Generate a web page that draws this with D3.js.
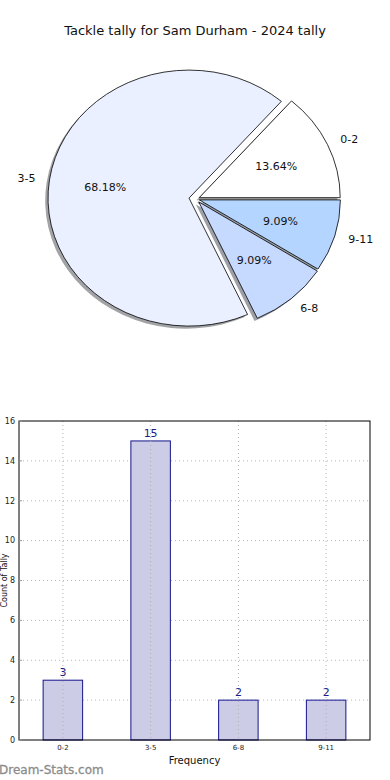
<!DOCTYPE html>
<html>
<head>
<meta charset="utf-8">
<script src="https://cdn.jsdelivr.net/npm/d3@7"></script>
<style>
  body { margin: 0; background: #fff; }
  svg { display: block; font-family: "DejaVu Sans", sans-serif; }
</style>
</head>
<body>
<svg id="chart" width="390" height="780"></svg>
<script>
// data
let categories = ["0-2", "3-5", "6-8", "9-11"];
let tallies = [3, 15, 2, 2];
let yTicks = [0, 2, 4, 6, 8, 10, 12, 14, 16];

// styles
let pieColors = ["#ffffff", "#eaf0ff", "#c6d9ff", "#b4d5ff"];
let explode = [0.025, 0.05, 0.03, 0.025];

let svg = d3.select("#chart");

// title
svg.append("text")
    .attr("x", 195).attr("y", 35)
    .attr("text-anchor", "middle")
    .attr("font-size", 13)
    .attr("fill", "#111")
    .text("Tackle tally for Sam Durham - 2024 tally");

// ---------- pie ----------
let cx = 196, cy = 199, rx = 141, ry = 128;
let total = d3.sum(tallies);

// counter clockwise from 3 o'clock like matplotlib
let pieArcs = d3.pie()
    .sort(null)
    .startAngle(Math.PI / 2)
    .endAngle(Math.PI / 2 - 2 * Math.PI)
    .value(d => d);

let arcs = pieArcs(tallies);
let arc = d3.arc().innerRadius(0).outerRadius(rx);

let slices = arcs.map((d, i) => {
    let m = (d.startAngle + d.endAngle) / 2;
    let ux = Math.sin(m), uy = -Math.cos(m);
    return {
        d: d, i: i, ux: ux, uy: uy,
        x: cx + explode[i] * rx * ux,
        y: cy + explode[i] * ry * uy
    };
});

let pieG = svg.append("g");

// shadows first (under every wedge)
pieG.selectAll("path.shadow")
    .data(slices)
    .enter().append("path")
    .attr("class", "shadow")
    .attr("transform", s => `translate(${s.x - 0.02 * rx},${s.y + 0.02 * ry}) scale(1,${ry / rx})`)
    .attr("d", s => arc(s.d))
    .attr("fill", s => { let c = d3.rgb(pieColors[s.i]); return d3.rgb(c.r * 0.3, c.g * 0.3, c.b * 0.3); })
    .attr("fill-opacity", 0.5);

pieG.selectAll("path.wedge")
    .data(slices)
    .enter().append("path")
    .attr("class", "wedge")
    .attr("transform", s => `translate(${s.x},${s.y}) scale(1,${ry / rx})`)
    .attr("d", s => arc(s.d))
    .attr("fill", s => pieColors[s.i])
    .attr("stroke", "#000")
    .attr("stroke-width", 0.8)
    .attr("vector-effect", "non-scaling-stroke");

// category labels
pieG.selectAll("text.lab")
    .data(slices)
    .enter().append("text")
    .attr("class", "lab")
    .attr("x", s => s.x + 1.1 * rx * s.ux)
    .attr("y", s => s.y + 1.1 * ry * s.uy)
    .attr("dy", "0.35em")
    .attr("text-anchor", s => s.ux > 0 ? "start" : "end")
    .attr("font-size", 11)
    .attr("fill", "#111")
    .text(s => categories[s.i]);

// percentages
pieG.selectAll("text.pct")
    .data(slices)
    .enter().append("text")
    .attr("class", "pct")
    .attr("x", s => s.x + 0.6 * rx * s.ux)
    .attr("y", s => s.y + 0.6 * ry * s.uy)
    .attr("dy", "0.35em")
    .attr("text-anchor", "middle")
    .attr("font-size", 11)
    .attr("fill", "#111")
    .text(s => (s.d.value / total * 100).toFixed(2) + "%");

// ---------- bar chart ----------
let plotLeft = 19, plotRight = 370, plotTop = 421, plotBottom = 740;

let x = d3.scalePoint().domain(categories).range([plotLeft, plotRight]).padding(0.5);
let y = d3.scaleLinear().domain([0, 16]).range([plotBottom, plotTop]);
let barW = x.step() * 0.45;

let bar = svg.append("g");

// grid
bar.selectAll("line.gy")
    .data(yTicks.slice(1, -1))
    .enter().append("line")
    .attr("x1", plotLeft).attr("x2", plotRight)
    .attr("y1", d => y(d)).attr("y2", d => y(d))
    .attr("stroke", "#b8b8b8").attr("stroke-dasharray", "1,3");

// bars
bar.selectAll("rect.bar")
    .data(tallies)
    .enter().append("rect")
    .attr("x", (d, i) => x(categories[i]) - barW / 2)
    .attr("y", d => y(d))
    .attr("width", barW)
    .attr("height", d => plotBottom - y(d))
    .attr("fill", "#ccccE6")
    .attr("stroke", "#14148c")
    .attr("stroke-width", 1);

// vertical grid shows through the bars in the reference
bar.selectAll("line.gx")
    .data(categories)
    .enter().append("line")
    .attr("x1", d => x(d)).attr("x2", d => x(d))
    .attr("y1", plotTop).attr("y2", plotBottom)
    .attr("stroke", "#b0b0b0").attr("stroke-dasharray", "1,3");

// value labels
bar.selectAll("text.val")
    .data(tallies)
    .enter().append("text")
    .attr("x", (d, i) => x(categories[i]))
    .attr("y", d => y(d) - 4)
    .attr("text-anchor", "middle")
    .attr("font-size", 11)
    .attr("fill", "#1c1c8a")
    .text(d => d);

// frame
bar.append("rect")
    .attr("x", plotLeft).attr("y", plotTop)
    .attr("width", plotRight - plotLeft).attr("height", plotBottom - plotTop)
    .attr("fill", "none").attr("stroke", "#000").attr("stroke-width", 1);

// y ticks
bar.selectAll("line.ty")
    .data(yTicks)
    .enter().append("line")
    .attr("x1", plotLeft).attr("x2", plotLeft + 3)
    .attr("y1", d => y(d)).attr("y2", d => y(d))
    .attr("stroke", "#999");

bar.selectAll("text.ty")
    .data(yTicks)
    .enter().append("text")
    .attr("x", plotLeft - 4)
    .attr("y", d => y(d))
    .attr("dy", "0.35em")
    .attr("text-anchor", "end")
    .attr("font-size", 8)
    .attr("fill", "#222")
    .text(d => d);

// x tick labels
bar.selectAll("text.tx")
    .data(categories)
    .enter().append("text")
    .attr("x", d => x(d))
    .attr("y", plotBottom + 10)
    .attr("text-anchor", "middle")
    .attr("font-size", 7)
    .attr("fill", "#222")
    .text(d => d);

// axis labels
bar.append("text")
    .attr("x", (plotLeft + plotRight) / 2).attr("y", plotBottom + 24)
    .attr("text-anchor", "middle")
    .attr("font-size", 10)
    .attr("fill", "#111")
    .text("Frequency");

// y label squeezed against the left edge
bar.append("text")
    .attr("transform", `translate(7,${(plotTop + plotBottom) / 2}) rotate(-90)`)
    .attr("text-anchor", "middle")
    .attr("font-size", 8)
    .attr("fill", "#111")
    .text("Count of Tally");

// watermark
svg.append("text")
    .attr("x", -1).attr("y", 774)
    .attr("font-size", 12)
    .attr("fill", "#8c8c8c")
    .attr("stroke", "#8c8c8c")
    .attr("stroke-width", 0.3)
    .text("Dream-Stats.com");
</script>
</body>
</html>
